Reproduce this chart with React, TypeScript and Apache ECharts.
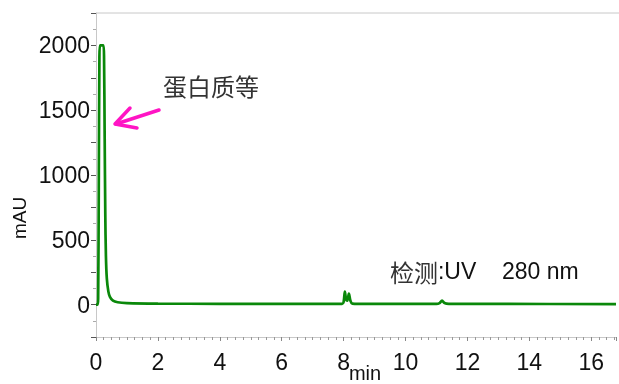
import React, { useEffect, useRef } from "react";
import * as echarts from "echarts";

const timeMin: number[] = [
  0, 0.05, 0.07, 0.09, 0.11, 0.13, 0.24, 0.26, 0.28, 0.3, 0.32, 0.35, 0.4, 0.45, 0.55, 0.7, 1.0,
  2, 4, 6, 7.95, 8.0, 8.04, 8.08, 8.12, 8.17, 8.22, 8.28, 8.5, 11.0, 11.1, 11.18, 11.26, 11.4, 13,
  16.8,
];
const absorbance: number[] = [
  0, 0, 50, 900, 1900, 2000, 2000, 1900, 1300, 700, 380, 200, 100, 60, 30, 18, 12,
  8, 6, 5, 5, 20, 100, 40, 30, 85, 30, 8, 6, 5, 12, 30, 12, 6, 5,
  4,
];
const xTicks: number[] = [0, 2, 4, 6, 8, 10, 12, 14, 16];
const yTicks: number[] = [0, 500, 1000, 1500, 2000];

export default function App() {
  const ref = useRef<HTMLDivElement>(null);
  useEffect(() => {
    if (!ref.current) return;
    const chart = echarts.init(ref.current, null, { renderer: "svg" });
    const data = timeMin.map((t, i) => [t, absorbance[i]]);
    chart.setOption({
      animation: false,
      grid: { left: 96, top: 13, right: 0, bottom: 47 },
      xAxis: {
        type: "value",
        min: 0,
        max: 16.8,
        interval: 2,
        axisLine: { show: true, onZero: false, lineStyle: { color: "#c8c8c8", width: 1 } },
        axisTick: { show: true, length: 4, lineStyle: { color: "#888" } },
        minorTick: { show: true, splitNumber: 8, length: 3, lineStyle: { color: "#999" } },
        splitLine: { show: false },
        axisLabel: {
          color: "#111",
          fontSize: 23,
          fontFamily: "Liberation Sans",
          margin: 13,
          formatter: (v: number) => (xTicks.includes(v) ? String(v) : ""),
        },
      },
      yAxis: {
        type: "value",
        min: -250,
        max: 2250,
        interval: 250,
        axisLine: { show: true, lineStyle: { color: "#c8c8c8", width: 1 } },
        axisTick: { show: true, length: 5, lineStyle: { color: "#555" } },
        minorTick: { show: true, splitNumber: 2, length: 3, lineStyle: { color: "#aaa" } },
        splitLine: { show: false },
        axisLabel: {
          color: "#111",
          fontSize: 23,
          fontFamily: "Liberation Sans",
          margin: 6,
          formatter: (v: number) => (yTicks.includes(v) ? String(v) : ""),
        },
      },
      series: [
        {
          type: "line",
          data,
          smooth: 0.3,
          showSymbol: false,
          lineStyle: { color: "#0a880a", width: 2.7 },
        },
      ],
      graphic: [
        { type: "line", shape: { x1: 96, y1: 13, x2: 619, y2: 13 }, style: { stroke: "#c8c8c8", lineWidth: 1 } },
        {
          type: "text",
          x: 19,
          y: 218,
          rotation: Math.PI / 2,
          style: {
            text: "mAU",
            fill: "#111",
            font: '19px "Liberation Sans"',
            align: "center",
            verticalAlign: "middle",
          },
        },
        {
          type: "text",
          x: 365,
          y: 373,
          style: {
            text: "min",
            fill: "#111",
            font: '20px "Liberation Sans"',
            align: "center",
            verticalAlign: "middle",
          },
        },
        {
          type: "text",
          x: 163,
          y: 85,
          style: {
            text: "蛋白质等",
            fill: "#333",
            font: '24px "Noto Sans CJK SC"',
            align: "left",
            verticalAlign: "middle",
          },
        },
        {
          type: "text",
          x: 390,
          y: 271,
          style: {
            rich: {
              cn: { font: '24px "Noto Sans CJK SC"', fill: "#333" },
              en: { font: '23px "Liberation Sans"', fill: "#111" },
            },
            text: "{cn|检测}{en|:UV    280 nm}",
            align: "left",
            verticalAlign: "middle",
          },
        },
        {
          type: "line",
          shape: { x1: 159, y1: 110, x2: 116, y2: 124 },
          style: { stroke: "#ff14c4", lineWidth: 3.5, lineCap: "round" },
        },
        {
          type: "polyline",
          shape: { points: [[130, 108], [115, 124], [137, 128]] },
          style: { stroke: "#ff14c4", lineWidth: 3.5, fill: "none", lineCap: "round", lineJoin: "round" },
        },
      ],
    });
    return () => chart.dispose();
  }, []);
  return (
    <div style={{ position: "fixed", left: 0, top: 0 }}>
      <div ref={ref} style={{ width: 619, height: 384 }} />
    </div>
  );
}
